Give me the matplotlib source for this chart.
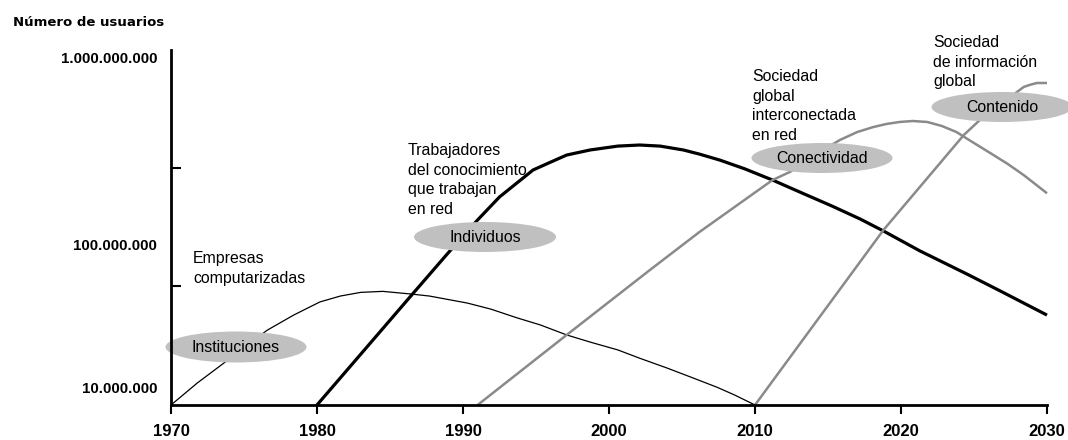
import matplotlib
matplotlib.use("Agg")
import matplotlib.pyplot as plt
from matplotlib.patches import Ellipse
from matplotlib.ticker import FixedLocator, NullFormatter
import matplotlib.transforms as mtransforms

# ---------------- data (users in millions) ----------------
inst_years = [1970, 1971.8, 1973.6, 1975.1, 1976.6, 1978.4, 1980.2, 1981.6, 1983.0, 1984.5,
              1986.4, 1987.7, 1990.3, 1991.9, 1993.7, 1995.3, 1997.1, 1998.7, 2000.6,
              2002.1, 2004.0, 2005.6, 2007.4, 2008.6, 2010]
inst_users = [7.93, 10.7, 14.0, 17.7, 22.0, 27.0, 32.3, 35.0, 36.8, 37.3,
              36.0, 35.0, 31.8, 29.3, 26.0, 23.6, 20.6, 18.7, 16.8,
              15.0, 13.1, 11.6, 10.1, 9.09, 7.93]

indiv_years = [1980, 1986.4, 1988.9, 1991.0, 1992.5, 1994.8, 1996.0, 1997.1, 1998.7,
               2000.6, 2002.1, 2003.5, 2005.1, 2006.2, 2007.6, 2009.3, 2011.2, 2013.1,
               2015.3, 2017.2, 2018.8, 2021.3, 2024.5, 2026.8, 2030]
indiv_users = [7.93, 34.8, 61.8, 98.7, 135, 195, 217, 239, 256,
               270, 274, 270, 256, 242, 223, 198, 170, 144,
               119, 100, 84.9, 64.7, 47.3, 37.5, 27.0]

conect_years = [1991.0, 1997.1, 2002.8, 2006.2, 2011.2, 2012.4, 2014.1, 2015.8, 2017.0,
                2018.1, 2019.0, 2019.9, 2020.8, 2021.8, 2022.8, 2023.8, 2024.9, 2026.1,
                2027.3, 2028.4, 2030]
conect_users = [7.93, 20.6, 49.9, 83.8, 170, 190, 239, 293, 327,
                350, 365, 375, 380, 375, 355, 327, 285, 246,
                212, 182, 142]

cont_years = [2010, 2018.8, 2024.3, 2025.4, 2028.4, 2028.8, 2029.3, 2030]
cont_users = [7.93, 86.1, 314, 385, 604, 621, 638, 638]

xtick_years = [1970, 1980, 1990, 2000, 2010, 2020, 2030]
ytick_values = [1e7, 1e8, 1e9]
ytick_labels = ["10.000.000", "100.000.000", "1.000.000.000"]
ymark_values = [4e7, 2e8, 1e9]

bubble_labels = ["Instituciones", "Individuos", "Conectividad", "Contenido"]
stage_texts = ["Empresas\ncomputarizadas",
               "Trabajadores\ndel conocimiento\nque trabajan\nen red",
               "Sociedad\nglobal\ninterconectada\nen red",
               "Sociedad\nde información\nglobal"]

W, H = 1068, 440
def fx(px):
    return px / W
def fy(py):
    return 1 - py / H

fig = plt.figure(figsize=(W / 100, H / 100), dpi=100)
ax = fig.add_axes([fx(171), fy(405), (1047 - 171) / W, (405 - 50) / H])

M = 1e6
line_kw = dict(clip_on=False, zorder=2, solid_joinstyle="round", solid_capstyle="butt")
ax.plot(inst_years, [v * M for v in inst_users], color="black", lw=0.9, **line_kw)
ax.plot(indiv_years, [v * M for v in indiv_users], color="black", lw=2.3, **line_kw)
ax.plot(conect_years, [v * M for v in conect_users], color="#8a8a8a", lw=1.8, **line_kw)
ax.plot(cont_years, [v * M for v in cont_users], color="#8a8a8a", lw=1.8, **line_kw)

ax.set_yscale("log")
ax.set_xlim(1970, 2030)
ax.set_ylim(7.93e6, 1e9)

for s in ["top", "right"]:
    ax.spines[s].set_visible(False)
for s in ["left", "bottom"]:
    ax.spines[s].set_linewidth(2.0)
    ax.spines[s].set_color("black")

# x ticks
ax.set_xticks(xtick_years)
ax.set_xticklabels([str(y) for y in xtick_years])
ax.tick_params(axis="x", direction="out", length=6.5, width=1.5, pad=7)
for lab in ax.get_xticklabels():
    lab.set_family("Liberation Sans")
    lab.set_fontweight("bold")
    lab.set_fontsize(12)

# y ticks: labels (major, no mark) and marks (minor, inward)
ax.yaxis.set_major_locator(FixedLocator(ytick_values))
ax.set_yticklabels(ytick_labels)
ax.yaxis.set_minor_locator(FixedLocator(ymark_values))
ax.yaxis.set_minor_formatter(NullFormatter())
ax.tick_params(axis="y", which="major", length=0, pad=10)
ax.tick_params(axis="y", which="minor", direction="in", length=7.2, width=1.5)
ylab_shift_px = [0, 26, 8]
for t, dy in zip(ax.yaxis.get_major_ticks(), ylab_shift_px):
    t.label1.set_family("Liberation Sans")
    t.label1.set_fontweight("bold")
    t.label1.set_fontsize(10.8)
    off = mtransforms.ScaledTranslation(0, -dy / 100, fig.dpi_scale_trans)
    t.label1.set_transform(t.label1.get_transform() + off)

# title
fig.text(fx(13), fy(22), "Número de usuarios", family="DejaVu Sans", fontweight="bold",
         fontsize=9.5, ha="left", va="center")

# bubbles
bubble_pos = [(236, 347, 141, 31), (485, 237, 142, 30), (822, 158, 141, 30), (1002, 107, 141, 30)]
for (cx, cy, w, h), lab in zip(bubble_pos, bubble_labels):
    e = Ellipse((fx(cx), fy(cy)), width=w / W, height=h / H, transform=fig.transFigure,
                facecolor="#c0c0c0", edgecolor="none", zorder=2.2, clip_on=False)
    ax.add_artist(e)
    ax.text(fx(cx), fy(cy), lab, transform=fig.transFigure, ha="center", va="center",
            family="Liberation Sans", fontsize=11.4, zorder=3)

# stage descriptions
text_pos = [(193, 258), (408, 150), (752, 76), (933, 42)]
for (px, py), txt in zip(text_pos, stage_texts):
    fig.text(fx(px), fy(py - 7), txt, ha="left", va="top", family="Liberation Sans",
             fontsize=11.4, linespacing=1.38)

fig.savefig("out.png", dpi=100)
